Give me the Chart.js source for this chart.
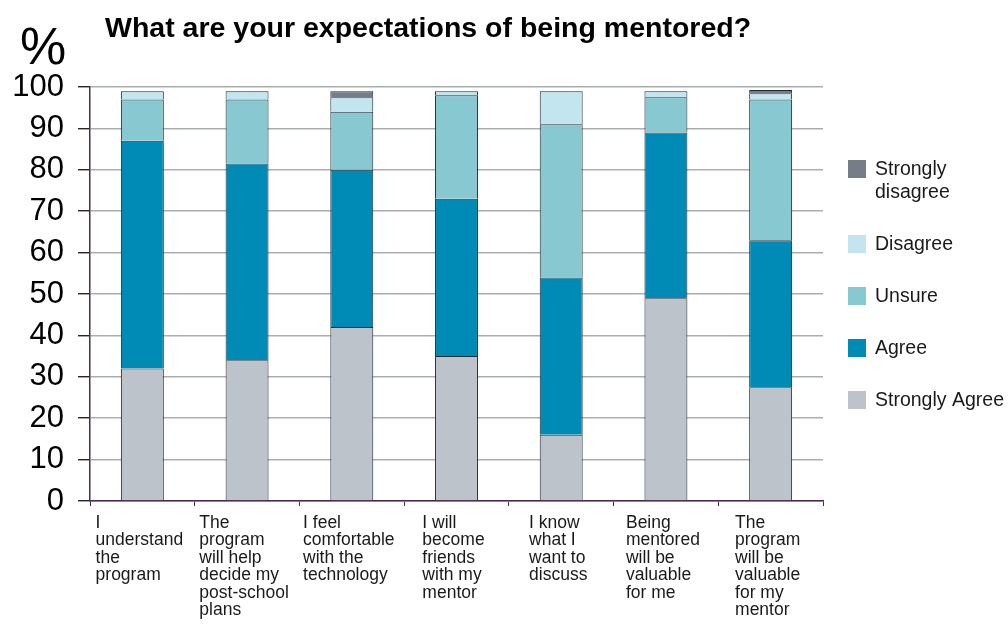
<!DOCTYPE html>
<html>
<head>
<meta charset="utf-8">
<title>What are your expectations of being mentored?</title>
<script src="https://cdn.jsdelivr.net/npm/chart.js@4.4.1/dist/chart.umd.min.js"></script>
<style>
  html, body { margin: 0; padding: 0; background: #fff; }
  #wrap { width: 1008px; height: 628px; position: relative; }
</style>
</head>
<body>
<div id="wrap"><canvas id="chart"></canvas></div>
<script>
// statements shown under each bar (one entry per printed line)
const statements = [
  ["I", "understand", "the", "program"],
  ["The", "program", "will help", "decide my", "post-school", "plans"],
  ["I feel", "comfortable", "with the", "technology"],
  ["I will", "become", "friends", "with my", "mentor"],
  ["I know", "what I", "want to", "discuss"],
  ["Being", "mentored", "will be", "valuable", "for me"],
  ["The", "program", "will be", "valuable", "for my", "mentor"]
];

// percentages of responses per statement
const stronglyAgree    = [32, 34, 42, 35, 16, 49, 27.5];
const agree            = [55, 47.5, 38, 38, 38, 40, 35.5];
const unsure           = [10, 15.5, 14, 25, 37, 8.5, 34];
const disagree         = [2, 2, 3.5, 1, 8, 1.5, 1.5];
const stronglyDisagree = [0, 0, 1.5, 0, 0, 0, 0.8];

const yTicks = [0, 10, 20, 30, 40, 50, 60, 70, 80, 90, 100];

const FONT = "'Liberation Sans', Arial, sans-serif";

const datasets = [
  { label: "Strongly Agree", data: stronglyAgree, backgroundColor: "#bcc3ca" },
  { label: "Agree", data: agree, backgroundColor: "#008bb6" },
  { label: "Unsure", data: unsure, backgroundColor: "#88c8d0" },
  { label: "Disagree", data: disagree, backgroundColor: "#c3e5f0" },
  { label: "Strongly\ndisagree", data: stronglyDisagree, backgroundColor: "#757e88" }
].map(function (d) {
  return Object.assign(d, {
    borderColor: "#1f2a30",
    borderWidth: 1,
    categoryPercentage: 1,
    barPercentage: 0.41
  });
});

// title, "%" marker, wrapped category labels and the legend on the right
const decorations = {
  id: "decorations",
  afterDraw: function (chart) {
    const ctx = chart.ctx;
    const xScale = chart.scales.x;
    ctx.save();

    ctx.fillStyle = "#000";
    ctx.textBaseline = "alphabetic";
    ctx.textAlign = "left";
    ctx.font = "bold 28.5px " + FONT;
    ctx.fillText("What are your expectations of being mentored?", 105, 37);

    ctx.font = "52px " + FONT;
    ctx.fillText("%", 20, 64);

    // category labels: block centred under the bar, lines left aligned
    ctx.font = "17.5px " + FONT;
    ctx.fillStyle = "#1a1a1a";
    ctx.textBaseline = "top";
    statements.forEach(function (lines, i) {
      const cx = xScale.getPixelForValue(i);
      const w = Math.max.apply(null, lines.map(function (l) { return ctx.measureText(l).width; }));
      lines.forEach(function (line, j) {
        ctx.fillText(line, cx - w / 2 - 3, 514 + j * 17.5);
      });
    });

    // legend, top item first
    ctx.font = "19.5px " + FONT;
    const items = datasets.slice().reverse();
    let y = 160;
    items.forEach(function (ds) {
      const lines = ds.label.split("\n");
      ctx.fillStyle = ds.backgroundColor;
      ctx.fillRect(848, y, 18, 18);
      ctx.fillStyle = "#1a1a1a";
      lines.forEach(function (line, j) {
        ctx.fillText(line, 875, y + j * 23);
      });
      y += 52 + (lines.length - 1) * 23;
    });

    ctx.restore();
  }
};

const ctx = document.getElementById("chart").getContext("2d");
new Chart(ctx, {
  type: "bar",
  data: { labels: statements.map(function (l) { return l.join(" "); }), datasets: datasets },
  options: {
    responsive: true,
    maintainAspectRatio: false,
    animation: false,
    layout: { padding: { top: 87, right: 185, bottom: 0, left: 0 } },
    plugins: {
      legend: { display: false },
      tooltip: { enabled: false }
    },
    scales: {
      x: {
        stacked: true,
        afterFit: function (scale) { scale.height = 127; },
        ticks: { display: false },
        grid: {
          display: true,
          drawOnChartArea: false,
          offset: true,
          tickLength: 5,
          tickColor: "#4a2a4f",
          tickWidth: 1
        },
        border: { color: "#4a2a4f", width: 1.5 }
      },
      y: {
        stacked: true,
        min: 0,
        max: 100,
        afterFit: function (scale) { scale.width = 90; },
        afterBuildTicks: function (scale) {
          scale.ticks = yTicks.map(function (v) { return { value: v }; });
        },
        ticks: {
          color: "#000",
          padding: 14,
          font: { family: FONT, size: 31 }
        },
        grid: {
          color: "#a9aeb3",
          lineWidth: 1.5,
          tickLength: 12,
          tickColor: "#000",
          tickWidth: 1.2
        },
        border: { color: "#4a2a4f", width: 1.5 }
      }
    }
  },
  plugins: [decorations]
});
</script>
</body>
</html>
